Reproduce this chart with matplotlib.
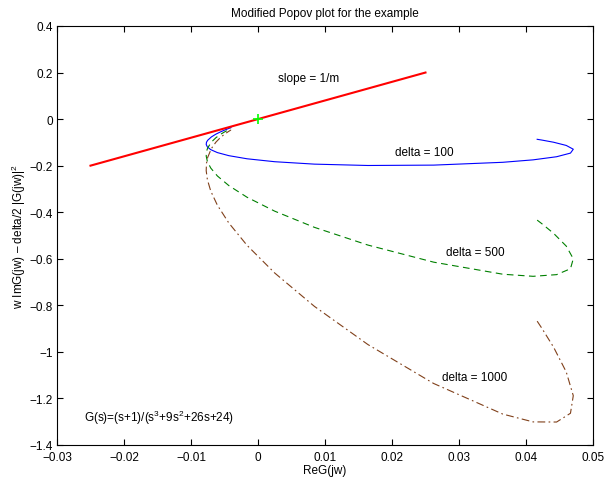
import matplotlib
matplotlib.use("Agg")
import matplotlib.pyplot as plt

plt.rcParams['font.family'] = ['Liberation Sans', 'DejaVu Sans']
plt.rcParams['mathtext.fontset'] = 'custom'
plt.rcParams['mathtext.rm'] = 'Liberation Sans'
plt.rcParams['mathtext.it'] = 'Liberation Sans:italic'
plt.rcParams['font.size'] = 8.5

# values (ReG(jw) shared by the three curves)
re_g = [0.04167, 0.04237, 0.04412, 0.04601, 0.04706, 0.04664, 0.04457, 0.04106,
        0.03654, 0.02622, 0.01641, 0.00843, 0.00250, -0.00163, -0.00435, -0.00606,
        -0.00705, -0.00755, -0.00773, -0.00769, -0.00751, -0.00695, -0.00629,
        -0.00564, -0.00504, -0.00450, -0.00403]
y_d100 = [-0.0868, -0.0901, -0.0994, -0.1132, -0.1294, -0.1461, -0.1617, -0.1751,
          -0.1856, -0.1977, -0.1993, -0.1935, -0.1831, -0.1705, -0.1571, -0.1439,
          -0.1313, -0.1197, -0.1091, -0.0996, -0.0910, -0.0765, -0.0648, -0.0555,
          -0.0479, -0.0417, -0.0365]
y_d500 = [-0.4340, -0.4494, -0.4907, -0.5456, -0.6000, -0.6428, -0.6682, -0.6754,
          -0.6664, -0.6146, -0.5412, -0.4651, -0.3956, -0.3358, -0.2857, -0.2444,
          -0.2104, -0.1824, -0.1592, -0.1399, -0.1238, -0.0986, -0.0802, -0.0664,
          -0.0559, -0.0476, -0.0411]
y_d1000 = [-0.8681, -0.8986, -0.9799, -1.0862, -1.1882, -1.2637, -1.3014, -1.3008,
           -1.2673, -1.1358, -0.9686, -0.8047, -0.6613, -0.5424, -0.4465, -0.3700,
           -0.3092, -0.2607, -0.2217, -0.1903, -0.1647, -0.1262, -0.0994, -0.0801,
           -0.0659, -0.0551, -0.0467]

slope_x = [-0.025, 0.025]
slope_y = [-0.2, 0.2]

xticks = [-0.03, -0.02, -0.01, 0, 0.01, 0.02, 0.03, 0.04, 0.05]
xticklabels = ['\u22120.03', '\u22120.02', '\u22120.01', '0', '0.01', '0.02', '0.03', '0.04', '0.05']
yticks = [0.4, 0.2, 0, -0.2, -0.4, -0.6, -0.8, -1, -1.2, -1.4]
yticklabels = ['0.4', '0.2', '0', '\u22120.2', '\u22120.4', '\u22120.6', '\u22120.8', '\u22121', '\u22121.2', '\u22121.4']

fig = plt.figure(figsize=(6.07, 4.81), dpi=100)
ax = fig.add_axes([0.0939, 0.0728, 0.8830, 0.8711])

ax.plot(re_g, y_d100, color='#0000ff', lw=0.8)
ax.plot(re_g, y_d500, color='#008000', lw=0.8, linestyle=(0, (6, 4)))
ax.plot(re_g, y_d1000, color='#80401a', lw=0.8, linestyle=(0, (7, 3, 1.5, 3)))
ax.plot(slope_x, slope_y, color='#ff0000', lw=1.5)
ax.plot([0], [0], marker='+', color='#00ff00', markersize=7, mew=1.2)

ax.text(0.003, 0.175, 'slope = 1/m', va='center')
ax.text(0.0205, -0.14, 'delta = 100', va='center')
ax.text(0.028, -0.57, 'delta = 500', va='center')
ax.text(0.0275, -1.11, 'delta = 1000', va='center')
ax.text(-0.026, -1.28, 'G(s)=(s+1)/(s$^3$+9s$^2$+26s+24)', va='center')

ax.set_xlim(-0.03, 0.05)
ax.set_ylim(-1.4, 0.4)
ax.set_xticks(xticks)
ax.set_xticklabels(xticklabels)
ax.set_yticks(yticks)
ax.set_yticklabels(yticklabels)
ax.tick_params(direction='in', top=True, right=True, length=4, width=0.8)
ax.tick_params(axis='x', pad=4)
ax.tick_params(axis='y', pad=3)
for s in ax.spines.values():
    s.set_linewidth(0.8)

ax.set_title('Modified Popov plot for the example', fontsize=8.5, pad=7)
ax.set_xlabel('ReG(jw)', labelpad=1)
ax.set_ylabel('w ImG(jw) \u2013 delta/2 |G(jw)|$^2$', labelpad=1)

fig.savefig('out.png', dpi=100)
